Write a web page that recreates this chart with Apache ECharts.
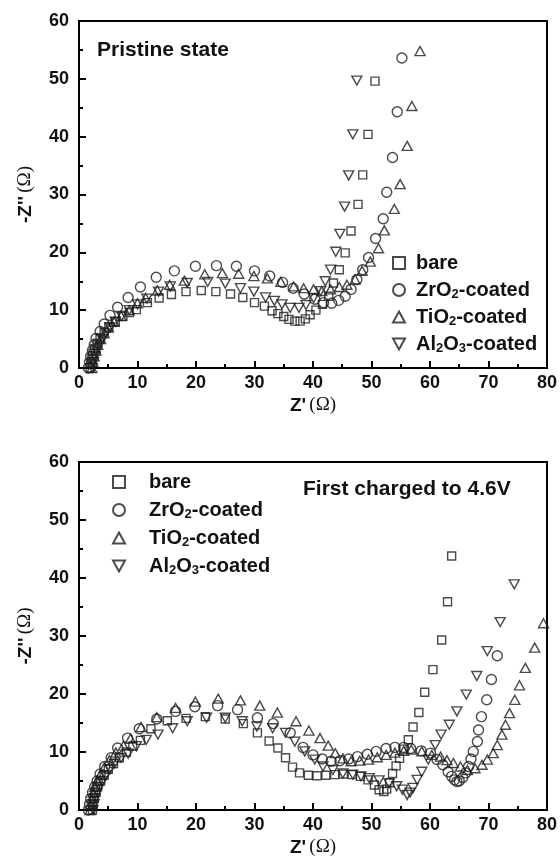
<!DOCTYPE html>
<html><head><meta charset="utf-8">
<script src="https://cdn.jsdelivr.net/npm/echarts@6/dist/echarts.min.js"></script>
<style>html,body{margin:0;padding:0;background:#fff}#c{width:560px;height:867px}</style>
</head><body><div id="c"></div>
<script>
const seriesNames = ['bare', 'ZrO2-coated', 'TiO2-coated', 'Al2O3-coated'];
const xTickValues = [0, 10, 20, 30, 40, 50, 60, 70, 80];
const yTickValues = [0, 10, 20, 30, 40, 50, 60];
const panelTitles = ['Pristine state', 'First charged to 4.6V'];

// Pristine state
const pristineBare = [[1.9,0],[2.0,0.8],[2.2,1.6],[2.4,2.5],[2.7,3.4],[3.1,4.3],[3.6,5.2],[4.3,6.2],[5.1,7.1],[6.2,8.0],[7.5,8.9],[8.6,9.6],[9.8,10.1],[11.7,11.3],[13.7,12.1],[15.8,12.7],[18.3,13.2],[20.9,13.4],[23.4,13.2],[25.9,12.8],[28.0,12.2],[30.0,11.3],[31.7,10.7],[33.0,9.9],[34.0,9.4],[35.0,8.9],[35.9,8.4],[36.9,8.1],[37.8,8.1],[38.7,8.5],[39.5,9.2],[40.5,10.0],[41.6,11.0],[42.7,12.4],[43.5,14.7],[44.5,17.0],[45.5,19.9],[46.5,23.7],[47.7,28.3],[48.5,33.4],[49.4,40.4],[50.6,49.6]];
const pristineZr = [[1.6,0],[1.8,1],[2.0,2],[2.3,3],[2.6,4],[2.9,5.1],[3.6,6.3],[4.3,7.6],[5.3,9.1],[6.6,10.5],[8.4,12.2],[10.5,14.0],[13.2,15.7],[16.3,16.8],[19.9,17.6],[23.5,17.7],[26.9,17.6],[30.0,16.8],[32.6,15.9],[34.8,14.8],[36.6,13.8],[38.5,12.8],[40.3,11.9],[41.8,11.3],[43.2,11.2],[44.4,11.7],[45.5,12.4],[46.5,13.6],[47.5,15.3],[48.5,17.0],[49.5,19.1],[50.7,22.4],[52.0,25.8],[52.6,30.4],[53.6,36.4],[54.4,44.3],[55.2,53.6]];
const pristineTi = [[2.2,0],[2.4,1],[2.6,2],[2.9,3],[3.2,4],[3.7,5],[4.3,6],[5.0,7],[6.0,8],[7.2,9],[8.6,10],[10.0,11.2],[11.4,12.1],[13.4,13.4],[15.5,14.4],[18.0,15.1],[21.5,16.2],[24.5,16.4],[27.3,16.3],[29.9,15.9],[32.2,15.5],[34.5,14.9],[36.7,14.1],[38.4,13.8],[40.1,13.6],[41.5,13.3],[43.0,13.6],[44.5,14.0],[45.8,14.4],[47.2,15.3],[48.4,16.8],[49.8,18.4],[51.2,20.7],[52.2,23.8],[53.9,27.5],[54.9,31.8],[56.1,38.4],[56.9,45.3],[58.3,54.8]];
const pristineAl = [[2.3,0],[2.5,1],[2.8,2],[3.1,3],[3.5,4],[4.0,5],[4.6,6],[5.3,7],[6.2,8],[7.3,9],[8.6,10],[10.0,11],[11.6,12],[13.6,13.2],[15.6,14.1],[18.5,14.7],[22.0,14.9],[25.0,14.6],[27.6,13.8],[29.9,13.2],[31.9,12.2],[33.4,11.6],[34.7,11.0],[36.1,10.4],[37.6,10.4],[38.8,10.9],[40.1,12.1],[41.3,13.3],[42.1,15.0],[43.0,17.0],[43.9,20.1],[44.6,23.2],[45.4,27.9],[46.1,33.3],[46.8,40.4],[47.5,49.7]];

// First charged to 4.6V
const chargedBare = [[2.3,0],[2.4,1],[2.6,2],[2.9,3],[3.2,4],[3.7,5],[4.3,6],[5.0,7],[5.9,8],[6.9,9],[8.1,10],[9.2,11],[10.5,12],[12.3,14.0],[15.1,15.4],[18.3,15.8],[21.6,16.1],[25.0,15.7],[28.1,14.9],[30.5,13.3],[32.5,11.9],[34.0,10.7],[35.3,9.0],[36.5,7.4],[37.7,6.4],[39.2,6.0],[40.7,5.9],[42.2,6.0],[43.7,6.1],[45.2,6.2],[46.7,6.1],[48.1,5.8],[49.4,5.2],[50.5,4.3],[51.3,3.5],[52.1,3.2],[52.6,3.6],[53.1,4.7],[53.6,6.3],[54.2,7.6],[54.8,8.9],[55.5,10.5],[56.3,12.1],[57.1,14.3],[58.1,16.8],[59.1,20.3],[60.5,24.2],[62.0,29.3],[63.0,35.9],[63.7,43.8]];
const chargedZr = [[1.6,0],[1.8,1],[2.0,2],[2.3,3],[2.7,4],[3.1,5],[3.6,6.2],[4.4,7.5],[5.5,9.0],[6.6,10.7],[8.3,12.4],[10.3,14.0],[13.3,15.7],[16.5,17.0],[19.8,17.8],[23.7,18.0],[27.1,17.3],[30.5,15.9],[33.2,14.9],[36.1,13.3],[38.3,10.8],[40.0,9.5],[41.6,8.8],[43.1,8.4],[44.6,8.5],[46.1,8.8],[47.6,9.2],[49.3,9.6],[50.8,10.1],[52.5,10.6],[54.0,10.8],[55.5,10.8],[56.7,10.6],[58.5,10.2],[60.1,9.8],[61.2,8.7],[62.2,7.8],[63.1,6.6],[63.7,5.8],[64.2,5.2],[64.6,4.9],[65.0,5.0],[65.6,5.6],[66.1,6.4],[66.6,7.5],[67.0,8.8],[67.4,10.1],[68.1,11.8],[68.3,13.8],[68.8,16.1],[69.7,19.0],[70.5,22.5],[71.5,26.6]];
const chargedTi = [[1.9,0],[2.0,1],[2.2,2],[2.4,3],[2.7,4],[3.1,5],[3.6,6],[4.3,7.3],[5.2,8.6],[6.3,9.9],[7.6,11.1],[8.8,12.3],[10.6,14.3],[13.3,16.0],[16.5,17.6],[19.9,18.7],[23.8,19.2],[27.6,18.9],[30.9,18.0],[33.9,16.8],[37.1,15.3],[39.3,13.7],[41.2,12.4],[42.6,11.1],[43.8,9.8],[45.1,8.9],[46.5,8.4],[48.0,8.5],[49.5,8.7],[51.0,9.1],[52.5,9.5],[54.0,9.9],[55.5,10.2],[56.8,10.4],[58.6,10.1],[60.3,9.5],[61.8,9.2],[62.9,8.6],[64.0,8.1],[65.2,7.5],[66.4,6.9],[67.7,7.2],[68.9,7.8],[69.8,8.7],[70.8,9.8],[71.5,11.2],[72.3,13.0],[72.9,14.7],[73.6,16.7],[74.5,19.0],[75.3,21.5],[76.3,24.5],[77.9,28.0],[79.4,32.2]];
const chargedAl = [[2.4,0],[2.6,1],[2.8,2],[3.1,3],[3.5,4],[4.0,5],[4.6,6],[5.3,7],[6.1,8],[7.2,9],[8.4,9.7],[9.8,11.0],[11.5,12.1],[13.5,13.0],[16.0,14.1],[18.5,15.3],[21.8,15.9],[25.0,15.9],[27.9,15.3],[30.4,14.4],[33.1,14.1],[35.3,13.3],[36.9,11.8],[38.6,10.1],[40.3,8.7],[41.7,7.5],[43.4,6.9],[45.1,6.3],[46.8,6.1],[48.2,5.8],[49.6,5.5],[51.3,5.1],[53.0,4.6],[54.3,4.1],[55.3,3.5],[56.1,2.6],[56.6,3.0],[57.1,3.8],[57.8,5.2],[58.6,6.6],[59.7,8.7],[60.9,11.2],[61.9,13.0],[63.3,14.7],[64.6,17.0],[66.2,19.9],[68.0,23.1],[69.8,27.4],[72.0,32.4],[74.4,38.9]];

const FONT = "'Liberation Sans', Arial, sans-serif";
const INK = '#111';
const symbols = ['rect', 'circle', 'path://M5,0L10,9L0,9Z', 'path://M0,0L10,0L5,9Z'];
const sizes = [8, 10, [10, 9], [10, 9]];

function legendFmt(name) {
  return {
    'bare': 'bare',
    'ZrO2-coated': 'ZrO{s|2}-coated',
    'TiO2-coated': 'TiO{s|2}-coated',
    'Al2O3-coated': 'Al{s|2}O{s|3}-coated'
  }[name];
}

function axisPair(gi) {
  const common = {
    gridIndex: gi, type: 'value', min: 0,
    axisLine: { show: true, lineStyle: { color: '#000', width: 2 } },
    axisTick: { show: true, inside: true, length: 7, lineStyle: { color: '#000', width: 2 } },
    minorTick: { show: true, splitNumber: 2, length: 4, lineStyle: { color: '#000', width: 2 } },
    splitLine: { show: false },
    axisLabel: { color: INK, fontFamily: FONT, fontWeight: 'bold', fontSize: 18 }
  };
  const nameRich = {
    b: { fontFamily: FONT, fontWeight: 'bold', fontSize: 19, color: INK },
    o: { fontFamily: "'Liberation Serif', 'DejaVu Serif', serif", fontSize: 19, color: INK }
  };
  const x = Object.assign({}, common, {
    max: 80, interval: 10,
    name: "{b|Z'} {o|(Ω)}", nameLocation: 'middle', nameGap: 28,
    nameTextStyle: { rich: nameRich },
    axisLabel: Object.assign({}, common.axisLabel, { margin: 6, formatter: v => xTickValues.includes(v) ? String(v) : '' })
  });
  const y = Object.assign({}, common, {
    max: 60, interval: 10,
    name: "{b|-Z''} {o|(Ω)}", nameLocation: 'middle', nameGap: 44,
    nameTextStyle: { rich: nameRich },
    axisLabel: Object.assign({}, common.axisLabel, { margin: 10, formatter: v => yTickValues.includes(v) ? String(v) : '' })
  });
  return [x, y];
}

const a0 = axisPair(0), a1 = axisPair(1);
const panelData = [[pristineBare, pristineZr, pristineTi, pristineAl], [chargedBare, chargedZr, chargedTi, chargedAl]];
const series = [];
panelData.forEach((arrs, gi) => {
  arrs.forEach((d, k) => {
    series.push({
      type: 'scatter', name: seriesNames[k], xAxisIndex: gi, yAxisIndex: gi,
      data: d, symbol: symbols[k], symbolSize: sizes[k],
      itemStyle: { color: 'rgba(255,255,255,0)', borderColor: '#1e1e1e', borderWidth: 1.4 },
      emphasis: { disabled: true }
    });
  });
});

const legendText = (padLeft) => ({
  fontFamily: FONT, fontWeight: 'bold', fontSize: 20, color: INK, lineHeight: 22,
  padding: [0, 0, 0, padLeft],
  rich: { s: { fontFamily: FONT, fontWeight: 'bold', fontSize: 13, color: INK, verticalAlign: 'bottom', lineHeight: 1 } }
});

const option = {
  animation: false,
  backgroundColor: '#fff',
  grid: [
    { left: 79, right: 10, top: 21, height: 347, show: true, borderColor: '#000', borderWidth: 2, backgroundColor: 'transparent' },
    { left: 79, right: 10, top: 462, height: 348, show: true, borderColor: '#000', borderWidth: 2, backgroundColor: 'transparent' }
  ],
  xAxis: [a0[0], a1[0]],
  yAxis: [a0[1], a1[1]],
  legend: [
    { data: seriesNames, orient: 'vertical', left: 387, top: 247, itemWidth: 12, itemHeight: 12, itemGap: 5,
      selectedMode: false, formatter: legendFmt, textStyle: legendText(6) },
    { data: seriesNames, orient: 'vertical', left: 107, top: 466, itemWidth: 12, itemHeight: 12, itemGap: 6,
      selectedMode: false, formatter: legendFmt, textStyle: legendText(19) }
  ],
  graphic: [
    { type: 'text', left: 97, top: 40, style: { text: panelTitles[0], font: "bold 21px " + FONT, fill: INK } },
    { type: 'text', left: 303, top: 479, style: { text: panelTitles[1], font: "bold 21px " + FONT, fill: INK } }
  ],
  series: series
};

const chart = echarts.init(document.getElementById('c'), null, { renderer: 'canvas' });
chart.setOption(option);
</script>
</body></html>
